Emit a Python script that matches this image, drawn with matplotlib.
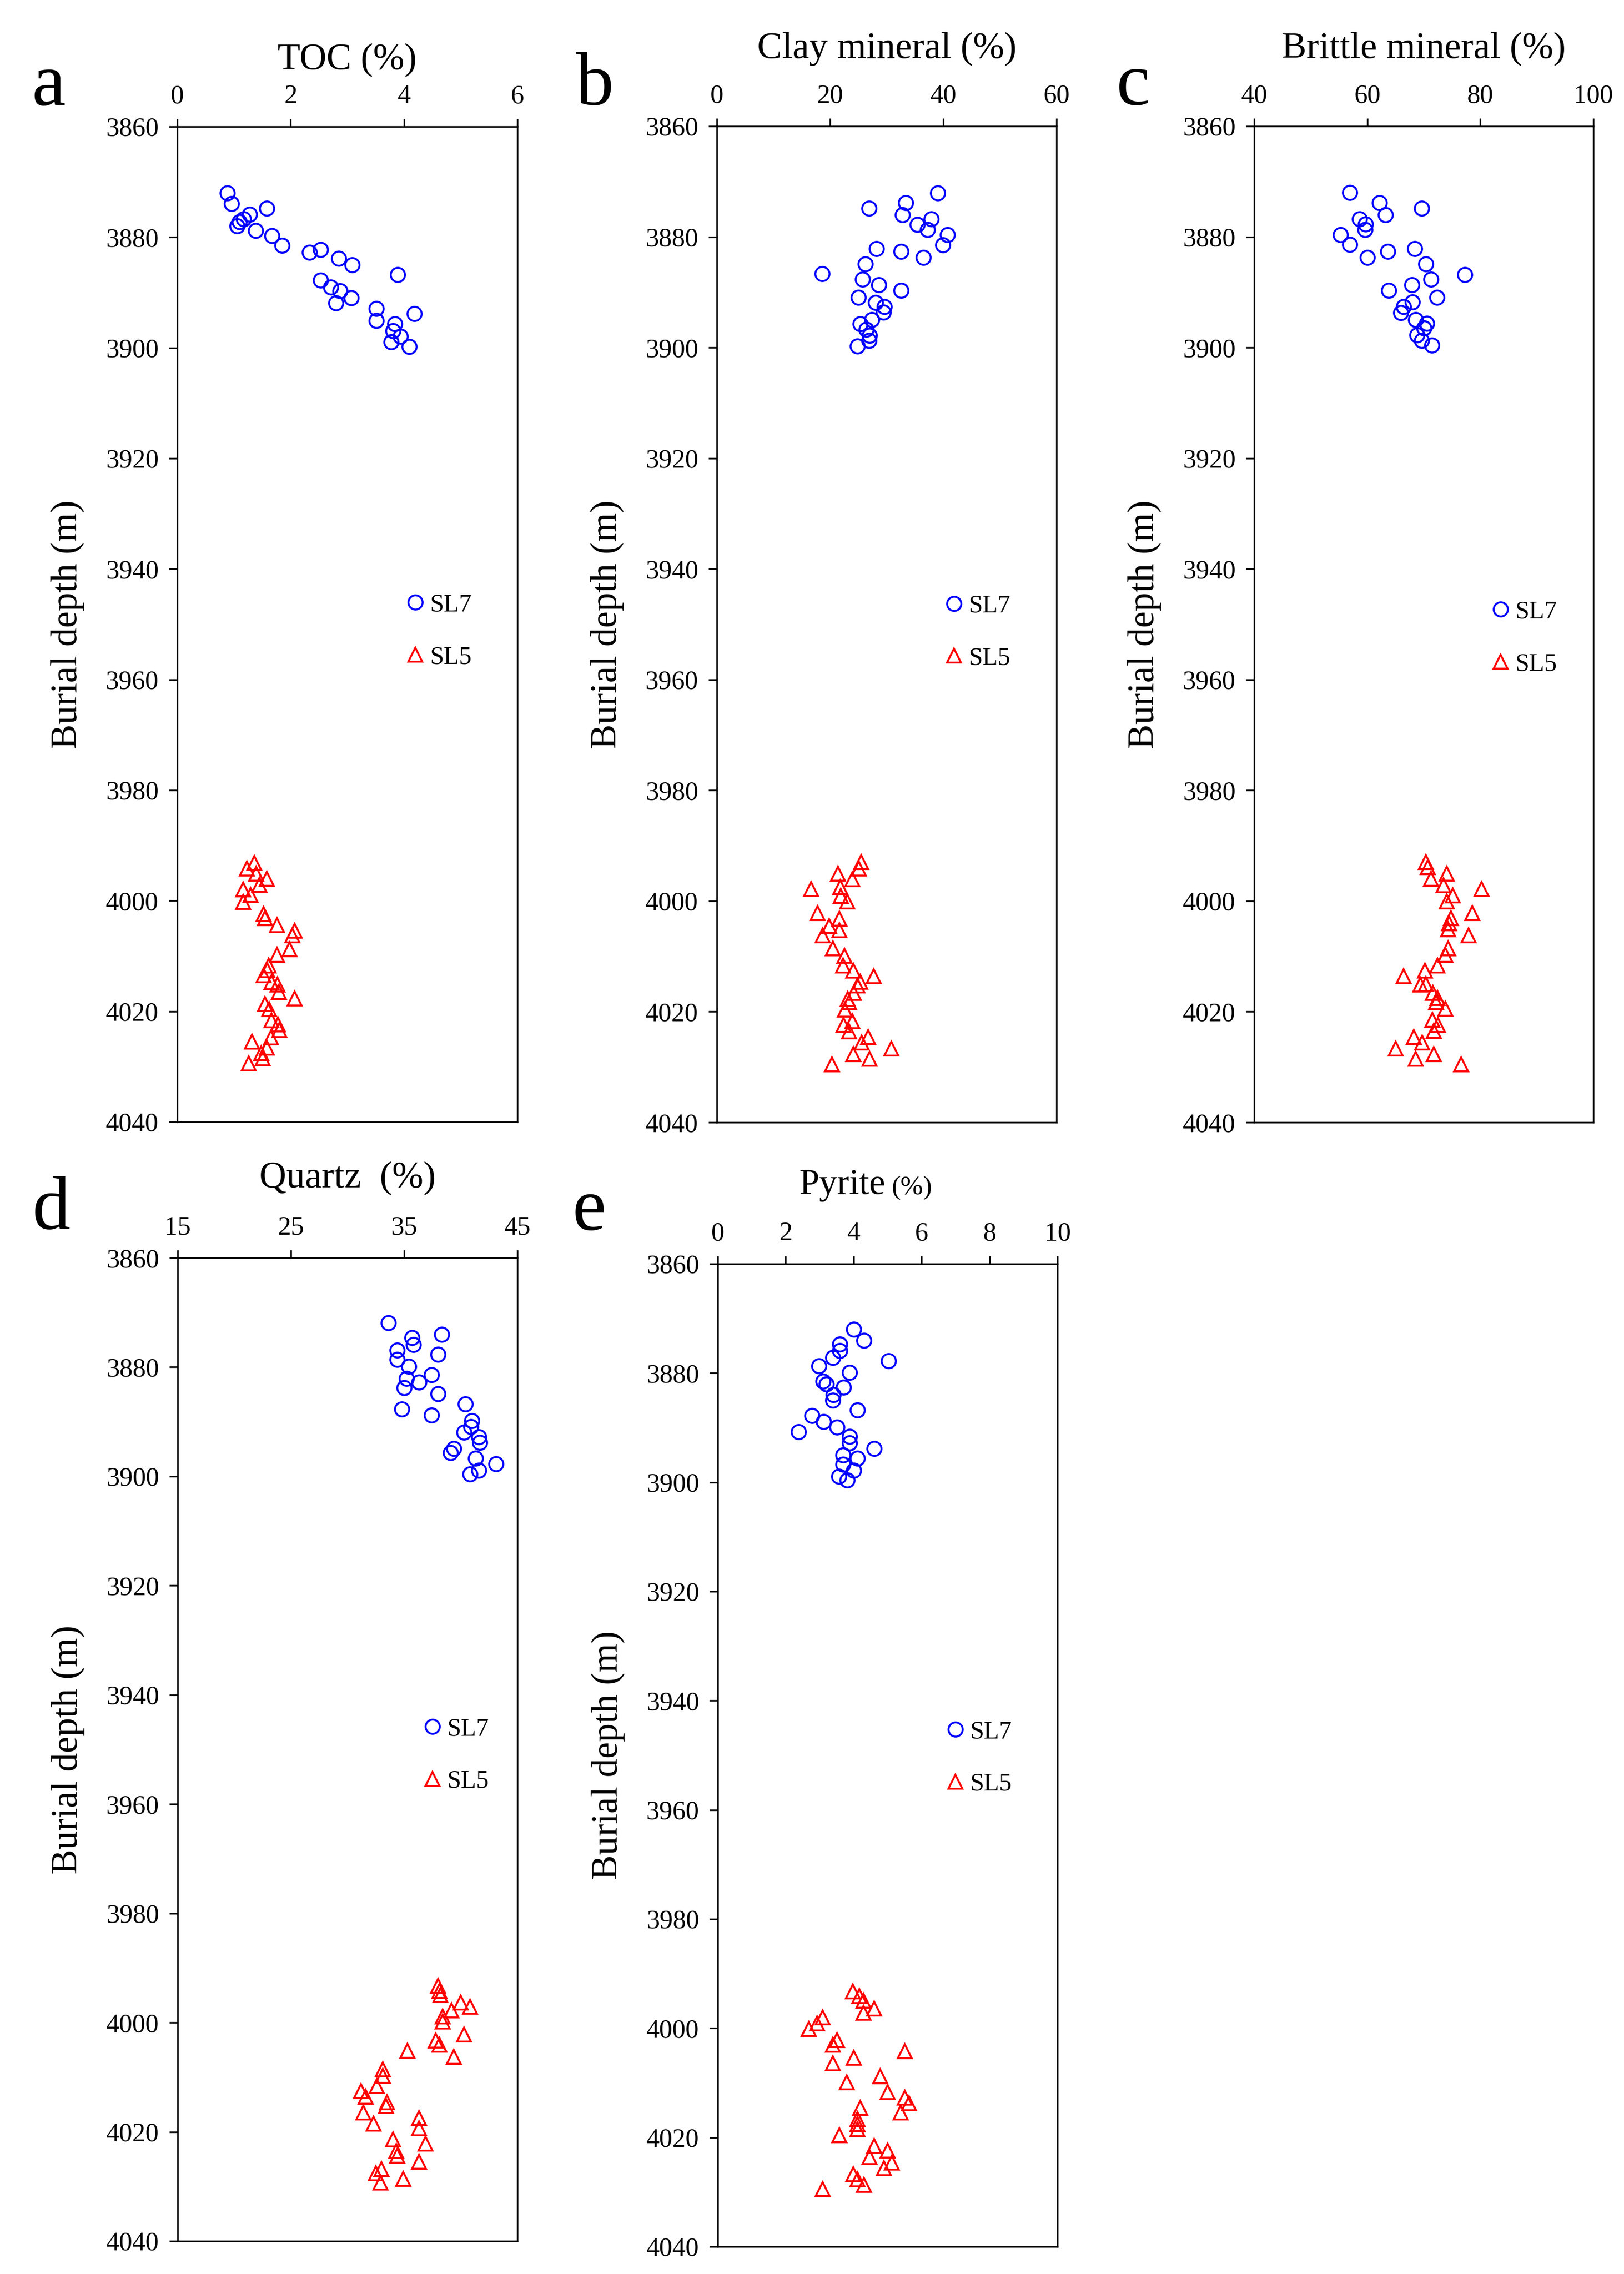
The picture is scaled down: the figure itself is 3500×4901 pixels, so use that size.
import matplotlib
matplotlib.use('Agg')
import matplotlib.pyplot as plt

plt.rcParams['font.family'] = ['Liberation Serif', 'DejaVu Serif']

# ---- data ----
toc_sl7 = [0.88, 0.96, 1.58, 1.28, 1.17, 1.10, 1.06, 1.38, 1.67, 1.85, 2.33, 2.53, 2.85, 3.09,
           3.89, 2.53, 2.71, 2.87, 3.07, 2.80, 3.51, 4.18, 3.51, 3.84, 3.81, 3.94, 3.77, 4.09]
toc_depth_sl7 = [3872.0, 3873.9, 3874.8, 3875.9, 3876.7, 3877.2, 3878.0, 3878.8, 3879.7, 3881.5,
                 3882.7, 3882.2, 3883.8, 3885.0, 3886.8, 3887.8, 3889.0, 3889.7, 3891.0, 3891.9,
                 3892.9, 3893.8, 3895.1, 3895.7, 3896.9, 3897.9, 3898.9, 3899.8]
toc_sl5 = [1.36, 1.23, 1.39, 1.58, 1.45, 1.16, 1.29, 1.16, 1.52, 1.55, 1.76, 2.07, 2.03, 1.98,
           1.76, 1.61, 1.59, 1.52, 1.66, 1.77, 1.79, 2.07, 1.55, 1.62, 1.66, 1.78, 1.80, 1.65,
           1.32, 1.58, 1.48, 1.51, 1.26]
toc_depth_sl5 = [3993.2, 3994.2, 3995.1, 3996.0, 3997.1, 3998.0, 3999.0, 4000.2, 4002.4, 4003.2,
                 4004.4, 4005.4, 4006.3, 4008.8, 4009.8, 4011.7, 4012.6, 4013.5, 4014.7, 4015.2,
                 4016.5, 4017.7, 4018.7, 4019.6, 4021.6, 4022.4, 4023.4, 4024.7, 4025.5, 4026.6,
                 4027.6, 4028.5, 4029.4]

clay_sl7 = [39.0, 33.4, 26.9, 32.8, 37.9, 35.4, 37.2, 40.7, 39.9, 28.2, 32.5, 36.5, 26.2, 18.6,
            25.7, 28.6, 32.5, 25.0, 28.0, 29.6, 29.4, 27.4, 25.3, 26.4, 27.0, 26.9, 24.8]
clay_depth_sl7 = [3872.1, 3873.8, 3874.8, 3876.0, 3876.8, 3877.8, 3878.7, 3879.6, 3881.5, 3882.1,
                  3882.6, 3883.7, 3884.9, 3886.7, 3887.7, 3888.7, 3889.7, 3890.9, 3891.9, 3892.6,
                  3893.6, 3895.0, 3895.7, 3896.7, 3897.8, 3898.7, 3899.7]
clay_sl5 = [25.5, 25.1, 21.4, 23.9, 16.6, 21.8, 21.9, 23.0, 17.8, 21.6, 19.8, 21.6, 18.7, 20.5,
            22.5, 22.3, 24.1, 27.7, 25.3, 24.8, 24.2, 23.1, 23.4, 22.6, 23.9, 22.4, 23.4, 26.7,
            25.6, 30.8, 24.1, 27.0, 20.3]
clay_depth_sl5 = [3993.0, 3994.1, 3995.1, 3996.1, 3997.8, 3997.5, 3999.1, 4000.1, 4002.2, 4003.2,
                  4004.5, 4005.3, 4006.2, 4008.6, 4009.9, 4011.7, 4012.6, 4013.6, 4014.6, 4015.3,
                  4016.6, 4017.7, 4018.3, 4019.6, 4021.7, 4022.4, 4023.6, 4024.6, 4025.6, 4026.7,
                  4027.7, 4028.5, 4029.5]

brittle_sl7 = [56.9, 62.2, 69.6, 63.2, 58.6, 59.7, 59.6, 55.3, 56.9, 68.4, 63.6, 60.0, 70.4, 77.3,
               71.3, 67.9, 63.8, 72.3, 68.0, 66.4, 65.9, 68.6, 70.5, 70.0, 68.8, 69.6, 71.4]
brittle_depth_sl7 = [3872.0, 3873.8, 3874.8, 3876.0, 3876.8, 3877.7, 3878.7, 3879.6, 3881.4, 3882.1,
                     3882.6, 3883.7, 3884.9, 3886.8, 3887.7, 3888.7, 3889.7, 3890.9, 3891.8, 3892.6,
                     3893.7, 3895.0, 3895.6, 3896.5, 3897.7, 3898.7, 3899.6]
brittle_sl5 = [70.4, 70.7, 74.1, 71.3, 73.5, 80.2, 75.1, 74.1, 78.6, 74.8, 74.5, 74.3, 77.9, 74.3,
               73.8, 72.4, 70.2, 66.4, 69.4, 70.4, 71.6, 72.4, 72.2, 73.8, 71.5, 72.5, 71.8, 68.2,
               69.7, 65.0, 71.8, 68.6, 76.6]
brittle_depth_sl5 = [3993.0, 3993.9, 3995.1, 3996.0, 3997.2, 3997.8, 3999.0, 4000.1, 4002.2, 4003.1,
                     4004.0, 4005.1, 4006.2, 4008.6, 4009.7, 4011.7, 4012.6, 4013.6, 4015.1, 4015.0,
                     4016.6, 4017.5, 4018.3, 4019.5, 4021.5, 4022.4, 4023.5, 4024.6, 4025.6, 4026.7,
                     4027.7, 4028.5, 4029.5]

quartz_sl7 = [33.6, 38.3, 35.7, 35.8, 34.4, 38.0, 34.4, 35.4, 37.4, 35.2, 36.3, 35.0, 38.0, 40.4,
              34.8, 37.4, 41.0, 40.9, 40.3, 41.6, 41.7, 39.4, 39.1, 43.1, 41.3, 41.6, 40.8]
quartz_depth_sl7 = [3871.9, 3874.0, 3874.6, 3875.9, 3876.9, 3877.7, 3878.6, 3879.9, 3881.4, 3882.1,
                    3882.8, 3883.8, 3884.9, 3886.8, 3887.7, 3888.8, 3889.8, 3890.9, 3891.9, 3892.8,
                    3893.8, 3894.9, 3895.7, 3897.7, 3896.7, 3898.9, 3899.6]
quartz_sl5 = [38.0, 38.1, 38.2, 40.0, 40.8, 39.2, 38.4, 38.4, 40.3, 37.8, 38.1, 35.3, 39.4, 33.1,
              33.1, 32.6, 31.2, 31.6, 33.5, 33.4, 31.4, 32.3, 36.3, 36.3, 34.0, 36.9, 34.3, 34.4,
              36.3, 33.0, 32.5, 34.9, 32.9]
quartz_depth_sl5 = [3993.3, 3994.2, 3995.0, 3996.3, 3997.1, 3997.8, 3998.9, 3999.8, 4002.2, 4003.3,
                    4004.1, 4005.2, 4006.3, 4008.6, 4009.8, 4011.6, 4012.6, 4013.6, 4014.6, 4015.3,
                    4016.5, 4018.5, 4017.5, 4019.4, 4021.4, 4022.2, 4023.5, 4024.4, 4025.5, 4026.8,
                    4027.6, 4028.6, 4029.3]

pyrite_sl7 = [4.00, 4.30, 3.59, 3.59, 3.39, 5.03, 2.98, 3.88, 3.10, 3.20, 3.70, 3.40, 3.39, 4.11,
              2.78, 3.11, 3.51, 2.38, 3.88, 3.88, 4.61, 3.69, 4.11, 3.69, 4.00, 3.57, 3.81]
pyrite_depth_sl7 = [3872.0, 3874.0, 3874.7, 3875.9, 3877.2, 3877.8, 3878.7, 3879.9, 3881.5, 3882.0,
                    3882.6, 3884.0, 3885.0, 3886.8, 3887.8, 3888.9, 3889.9, 3890.8, 3891.6, 3892.8,
                    3893.8, 3895.0, 3895.6, 3896.7, 3897.8, 3898.9, 3899.6]
pyrite_sl5 = [3.98, 4.17, 4.29, 4.60, 4.29, 3.09, 2.92, 2.68, 3.51, 3.39, 5.50, 4.00, 3.39, 4.78,
              3.80, 5.00, 5.50, 5.63, 4.19, 5.38, 4.11, 4.11, 4.11, 3.58, 4.60, 5.00, 4.47, 5.12,
              4.89, 3.99, 4.11, 4.31, 3.09]
pyrite_depth_sl5 = [3993.3, 3994.1, 3995.0, 3996.4, 3997.2, 3998.0, 3999.1, 4000.1, 4002.2, 4003.0,
                    4004.2, 4005.4, 4006.4, 4008.8, 4009.9, 4011.7, 4012.7, 4013.7, 4014.6, 4015.4,
                    4016.6, 4017.6, 4018.5, 4019.6, 4021.6, 4022.4, 4023.6, 4024.6, 4025.6, 4026.7,
                    4027.7, 4028.7, 4029.5]

depth_ticks = [3860, 3880, 3900, 3920, 3940, 3960, 3980, 4000, 4020, 4040]

W, H = 3500, 4901
fig = plt.figure(figsize=(35, 49.01), dpi=100)
fig.patch.set_facecolor('white')


def make_axes(left, right, top, bottom):
    return fig.add_axes([left / W, 1 - bottom / H, (right - left) / W, (bottom - top) / H])


panels = [
    dict(box=(382, 1115, 273, 2418), letter='a', lpos=(68, 226),
         sl7=(toc_sl7, toc_depth_sl7), sl5=(toc_sl5, toc_depth_sl5),
         xlim=(0, 6), xticks=[0, 2, 4, 6], title='TOC (%)', toff=103, leg=(0.676, 0.493)),
    dict(box=(1545, 2277, 272, 2419), letter='b', lpos=(1241, 225),
         sl7=(clay_sl7, clay_depth_sl7), sl5=(clay_sl5, clay_depth_sl5),
         xlim=(0, 60), xticks=[0, 20, 40, 60], title='Clay mineral (%)', toff=120, leg=(0.674, 0.492)),
    dict(box=(2703, 3434, 272, 2419), letter='c', lpos=(2406, 225),
         sl7=(brittle_sl7, brittle_depth_sl7), sl5=(brittle_sl5, brittle_depth_sl5),
         xlim=(40, 100), xticks=[40, 60, 80, 100], title='Brittle mineral (%)', toff=120, leg=(0.703, 0.486)),
    dict(box=(383, 1115, 2711, 4830), letter='d', lpos=(69, 2648),
         sl7=(quartz_sl7, quartz_depth_sl7), sl5=(quartz_sl5, quartz_depth_sl5),
         xlim=(15, 45), xticks=[15, 25, 35, 45], title='Quartz  (%)', toff=123, leg=(0.726, 0.494)),
    dict(box=(1547, 2279, 2724, 4842), letter='e', lpos=(1234, 2650),
         sl7=(pyrite_sl7, pyrite_depth_sl7), sl5=(pyrite_sl5, pyrite_depth_sl5),
         xlim=(0, 10), xticks=[0, 2, 4, 6, 8, 10], title=None, toff=122, leg=(0.676, 0.497)),
]

for p in panels:
    ax = make_axes(*p['box'])
    ax.plot(p['sl7'][0], p['sl7'][1], 'o', ls='none', mfc='none', mec='blue',
            ms=22, mew=3.0, label='SL7')
    ax.plot(p['sl5'][0], p['sl5'][1], '^', ls='none', mfc='none', mec='red',
            ms=22, mew=3.0, label='SL5')

    ax.set_xlim(*p['xlim'])
    ax.set_xticks(p['xticks'])
    ax.set_ylim(4040, 3860)
    ax.set_yticks(depth_ticks)
    ax.xaxis.tick_top()
    ax.tick_params(axis='x', top=True, bottom=False, direction='out', length=12,
                   width=2.5, pad=16, labelsize=41)
    ax.tick_params(axis='y', left=True, right=False, direction='out', length=13,
                   width=2.5, pad=16, labelsize=41)
    for s in ax.spines.values():
        s.set_linewidth(2.5)

    if p['title'] is not None:
        ax.annotate(p['title'], xy=(0.5, 1), xycoords='axes fraction',
                    xytext=(0, p['toff']), textcoords='offset points',
                    ha='center', va='center', fontsize=58)
    else:
        ax.annotate('Pyrite', xy=(0.494, 1), xycoords='axes fraction',
                    xytext=(0, p['toff']), textcoords='offset points',
                    ha='right', va='center', fontsize=56)
        ax.annotate('(%)', xy=(0.512, 1), xycoords='axes fraction',
                    xytext=(0, p['toff'] - 4), textcoords='offset points',
                    ha='left', va='center', fontsize=42)

    ax.annotate('Burial depth (m)', xy=(0, 0.5), xycoords='axes fraction',
                xytext=(-170, 0), textcoords='offset points', rotation=90,
                ha='center', va='center', fontsize=58)

    ax.legend(loc='center left', bbox_to_anchor=p['leg'], frameon=False,
              borderpad=0, borderaxespad=0, handlelength=0.65, handletextpad=0.25,
              labelspacing=1.15, fontsize=39)

    fig.text(p['lpos'][0] / W, 1 - p['lpos'][1] / H, p['letter'],
             fontsize=118, ha='left', va='baseline')

fig.savefig('out.png', dpi=100, facecolor='white')
